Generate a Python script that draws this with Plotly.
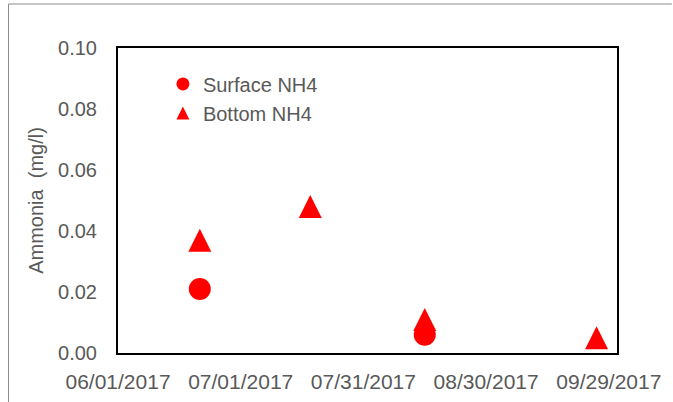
import plotly.graph_objects as go

# Ammonia samples (mg/l)
SURFACE_DATES = ['2017-06-21', '2017-08-15']
SURFACE_NH4 = [0.021, 0.006]

BOTTOM_DATES = ['2017-06-21', '2017-07-18', '2017-08-15', '2017-09-26']
BOTTOM_NH4 = [0.037, 0.048, 0.011, 0.005]

X_TICKS = ['2017-06-01', '2017-07-01', '2017-07-31', '2017-08-30', '2017-09-29']
X_TICK_TEXT = ['06/01/2017', '07/01/2017', '07/31/2017', '08/30/2017', '09/29/2017']
Y_TICKS = [0.00, 0.02, 0.04, 0.06, 0.08, 0.10]

RED = '#ff0000'
GREY_TEXT = '#595959'
FONT = 'Liberation Sans, Arial, sans-serif'

fig = go.Figure()

# data series (legend entries come from the dummy traces below)
fig.add_trace(go.Scatter(
    x=SURFACE_DATES, y=SURFACE_NH4, mode='markers', name='Surface NH4',
    marker=dict(symbol='circle', size=22, color=RED), showlegend=False,
))
# arrow-down turned 180deg and pushed by half its size -> centred upright triangle
fig.add_trace(go.Scatter(
    x=BOTTOM_DATES, y=BOTTOM_NH4, mode='markers', name='Bottom NH4',
    marker=dict(symbol='arrow-down', size=23, color=RED, angle=180, standoff=11.5),
    showlegend=False,
))

# legend-only entries with smaller symbols
fig.add_trace(go.Scatter(
    x=[None], y=[None], mode='markers', name='Surface NH4',
    marker=dict(symbol='circle', size=13, color=RED),
))
fig.add_trace(go.Scatter(
    x=[None], y=[None], mode='markers', name='Bottom NH4',
    marker=dict(symbol='arrow-up', size=13, color=RED, standoff=6.5),
))

# chart-area frame (only top and left edges fall inside the picture)
frame = dict(type='line', xref='paper', yref='paper',
             line=dict(color='#8c8c8c', width=1), layer='below')

fig.update_layout(
    width=673, height=402, autosize=False,
    paper_bgcolor='white', plot_bgcolor='white',
    margin=dict(l=118, r=56, t=48, b=49, autoexpand=False),
    font=dict(family=FONT, size=20, color=GREY_TEXT),
    showlegend=True,
    legend=dict(
        x=0.09, y=0.946, xanchor='left', yanchor='top',
        bgcolor='rgba(0,0,0,0)', font=dict(size=20, color=GREY_TEXT),
        itemsizing='trace',
    ),
    xaxis=dict(
        type='date', range=['2017-06-01', '2017-10-01'],
        tickvals=X_TICKS, ticktext=X_TICK_TEXT,
        showgrid=False, zeroline=False, ticks='', automargin=False,
        showline=True, linecolor='black', linewidth=2, mirror=True,
        ticklabelstandoff=9,
        tickfont=dict(size=21, color=GREY_TEXT),
    ),
    yaxis=dict(
        range=[0, 0.10], tickvals=Y_TICKS, tickformat='.2f',
        showgrid=False, zeroline=False, ticks='', automargin=False,
        showline=True, linecolor='black', linewidth=2, mirror=True,
        ticklabelstandoff=15,
        tickfont=dict(size=20, color=GREY_TEXT),
        title=dict(text='Ammonia\u00a0 (mg/l)', standoff=9,
                   font=dict(size=20, color=GREY_TEXT)),
    ),
    shapes=[
        dict(frame, x0=-0.2194, x1=1.11, y0=1.1443, y1=1.1443),
        dict(frame, x0=-0.2194, x1=-0.2194, y0=-0.2, y1=1.1443),
    ],
)

# drop the default page margin so the figure sits at the window origin
fig.write_html(
    'out.html',
    config={'displayModeBar': False},
    post_script="document.body.style.margin='0';document.body.style.overflow='hidden';",
)
